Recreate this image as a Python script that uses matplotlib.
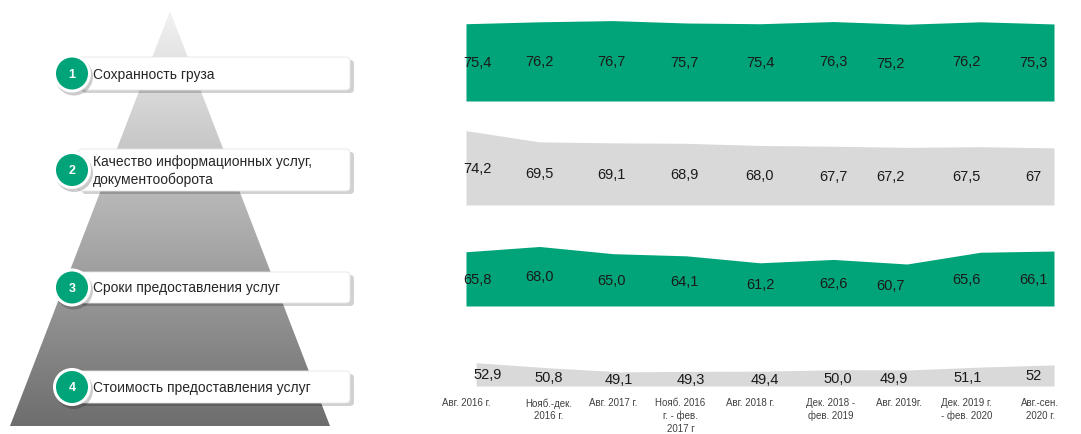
import numpy as np
import matplotlib.pyplot as plt
from matplotlib.patches import Polygon, FancyBboxPatch, Circle

# data
periods = ['Авг. 2016 г.', 'Нояб.-дек.\n2016 г.', 'Авг. 2017 г.', 'Нояб. 2016\nг. - фев.\n2017 г',
           'Авг. 2018 г.', 'Дек. 2018 -\nфев. 2019', 'Авг. 2019г.', 'Дек. 2019 г.\n- фев. 2020',
           'Авг.-сен.\n2020 г.']
factors = ['Сохранность груза', 'Качество информационных услуг,\nдокументооборота',
           'Сроки предоставления услуг', 'Стоимость предоставления услуг']
safety = [75.4, 76.2, 76.7, 75.7, 75.4, 76.3, 75.2, 76.2, 75.3]
info = [74.2, 69.5, 69.1, 68.9, 68.0, 67.7, 67.2, 67.5, 67]
terms = [65.8, 68.0, 65.0, 64.1, 61.2, 62.6, 60.7, 65.6, 66.1]
cost = [52.9, 50.8, 49.1, 49.3, 49.4, 50.0, 49.9, 51.1, 52]
series = [safety, info, terms, cost]

GREEN = '#00a478'
GREY = '#d9d9d9'
W, H = 1081, 435
FLOOR = 43.2
PX_PER_UNIT = 2.4

band_bottoms = [102, 206, 307, 387]
band_colors = [GREEN, GREY, GREEN, GREY]
label_pos = [0.16, 1.0, 1.98, 2.97, 4.0, 5.0, 5.78, 6.81, 7.72]
tick_pos = [-0.14, 1.0, 1.9, 2.83, 3.8, 4.91, 5.85, 6.79, 7.81]


def fmt(v):
    if isinstance(v, int):
        return str(v)
    return f'{v:.1f}'.replace('.', ',')


plt.rcParams['font.family'] = ['Liberation Sans', 'DejaVu Sans']
fig = plt.figure(figsize=(W / 100, H / 100), dpi=100)

# left part: pyramid with factor boxes
bg = fig.add_axes([0, 0, 1, 1])
bg.set_xlim(0, W)
bg.set_ylim(H, 0)
bg.axis('off')

apex = (170, 12)
base_y, base_l, base_r = 427, 10, 330
tri = Polygon([apex, (base_r, base_y), (base_l, base_y)], closed=True, facecolor='none', edgecolor='none')
bg.add_patch(tri)
grad = np.linspace(0, 1, 256).reshape(-1, 1)
c0, c1 = np.array([0.95, 0.95, 0.95]), np.array([0.43, 0.43, 0.43])
img = c0 + (c1 - c0) * grad[:, :, None]
im = bg.imshow(img, extent=(base_l, base_r, base_y, apex[1]), origin='upper', aspect='auto', zorder=1)
im.set_clip_path(tri)

box_tops = [58, 150, 273, 372]
box_bottoms = [91, 192, 304, 404]
for i, name in enumerate(factors):
    top, bot = box_tops[i], box_bottoms[i]
    cy = (top + bot) / 2
    # shadow
    bg.add_patch(FancyBboxPatch((82, top + 3), 272, bot - top, boxstyle='round,pad=0,rounding_size=4',
                                facecolor='#000000', alpha=0.18, edgecolor='none', zorder=2))
    bg.add_patch(FancyBboxPatch((78, top), 272, bot - top, boxstyle='round,pad=0,rounding_size=4',
                                facecolor='white', edgecolor='#e6e6e6', lw=0.6, zorder=3))
    bg.text(93, cy, name, fontsize=10, color='#262626', va='center', ha='left', linespacing=1.35, zorder=6)
    bg.add_patch(Circle((74, cy + 3), 19, facecolor='#000000', alpha=0.2, edgecolor='none', zorder=4))
    bg.add_patch(Circle((72, cy), 19, facecolor='white', edgecolor='none', zorder=4))
    bg.add_patch(Circle((72, cy), 16, facecolor=GREEN, edgecolor='none', zorder=5))
    bg.text(72, cy + 0.5, str(i + 1), fontsize=9, color='white', fontweight='bold',
            ha='center', va='center', zorder=6)

# right part: bands
x = np.arange(len(periods))
band_h = 100
for i, vals in enumerate(series):
    b = band_bottoms[i]
    ax = fig.add_axes([466 / W, (H - b) / H, 588 / W, band_h / H])
    ax.fill_between(x, FLOOR, vals, color=band_colors[i], lw=0)
    ax.set_xlim(0, len(periods) - 1)
    ax.set_ylim(FLOOR, FLOOR + band_h / PX_PER_UNIT)
    ax.patch.set_visible(False)
    for s in ax.spines.values():
        s.set_visible(False)
    ax.set_yticks([])
    for j, v in enumerate(vals):
        ax.text(label_pos[j], (FLOOR + v) / 2, fmt(v), fontsize=10.5, color='#1a1a1a',
                ha='center', va='center')
    if i == len(series) - 1:
        ax.set_xticks(tick_pos)
        ax.set_xticklabels(periods, fontsize=7, color='#404040', linespacing=1.3)
        ax.tick_params(axis='x', length=0, pad=8)
    else:
        ax.set_xticks([])

fig.savefig('out.png', dpi=100)
